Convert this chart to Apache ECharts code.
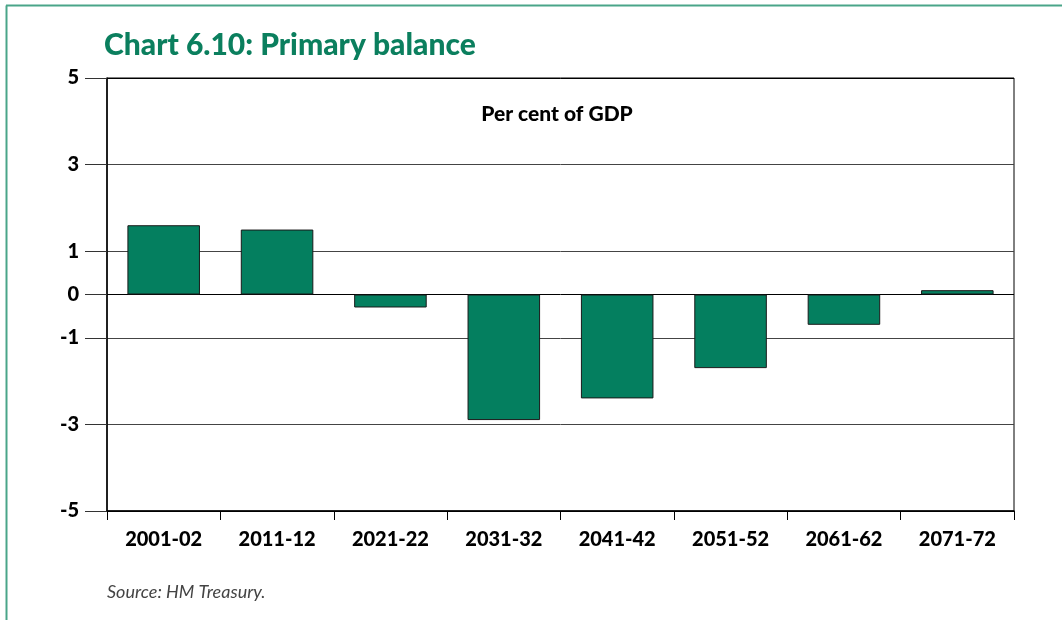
<!DOCTYPE html>
<html>
<head>
<meta charset="utf-8">
<script src="https://cdn.jsdelivr.net/npm/echarts@6/dist/echarts.min.js"></script>
<style>
html,body{margin:0;padding:0;background:#fff;}
#c{width:1062px;height:620px;}
</style>
</head>
<body>
<div id="c"></div>
<script>
var categories = ['2001-02','2011-12','2021-22','2031-32','2041-42','2051-52','2061-62','2071-72'];
var primaryBalance = [1.6, 1.5, -0.3, -2.9, -2.4, -1.7, -0.7, 0.1];
var yTicks = [-5, -3, -1, 0, 1, 3, 5];

var chart = echarts.init(document.getElementById('c'), null, {renderer: 'canvas'});
var FONT = 'Lato, "Open Sans", sans-serif';
chart.setOption({
  animation: false,
  backgroundColor: '#fff',
  title: {
    text: 'Chart 6.10: Primary balance',
    left: 99, top: 25,
    textStyle: {color: '#0b7f5e', fontFamily: FONT, fontWeight: 900, fontSize: 30}
  },
  graphic: [
    {type: 'line', shape: {x1: 6.5, y1: 5.5, x2: 6.5, y2: 620}, style: {stroke: '#4aa589', lineWidth: 2}},
    {type: 'line', shape: {x1: 6, y1: 5.5, x2: 1062, y2: 5.5}, style: {stroke: '#4aa589', lineWidth: 2}},
    {type: 'text', x: 557, y: 104, style: {text: 'Per cent of GDP', font: '900 21px ' + FONT, fill: '#000', align: 'center'}},
    {type: 'text', x: 107, y: 583, style: {text: 'Source: HM Treasury.', font: 'italic 18px ' + FONT, fill: '#444'}}
  ],
  grid: {left: 107, right: 48, top: 78, bottom: 109, show: true, borderColor: '#000', borderWidth: 1, backgroundColor: 'transparent'},
  xAxis: {
    type: 'category',
    data: categories,
    boundaryGap: true,
    axisLine: {show: true, onZero: false, lineStyle: {color: '#000', width: 1.5}},
    axisTick: {show: true, alignWithLabel: false, length: 9, lineStyle: {color: '#000', width: 1}},
    axisLabel: {color: '#000', fontFamily: FONT, fontWeight: 900, fontSize: 20, margin: 19}
  },
  yAxis: {
    type: 'value',
    min: -5, max: 5,
    axisLine: {show: true, lineStyle: {color: '#000', width: 1.5}},
    axisTick: {show: true, inside: false, length: 22, customValues: yTicks, lineStyle: {color: '#333', width: 1}},
    axisLabel: {customValues: yTicks, color: '#000', fontFamily: FONT, fontWeight: 900, fontSize: 20, margin: 28},
    splitLine: {show: true, lineStyle: {color: ['#000', '#444', '#444', '#000', '#444', '#444', '#000'], width: 1}}
  },
  series: [{
    type: 'bar',
    data: primaryBalance,
    barWidth: '64%',
    itemStyle: {color: '#047f5f', borderColor: '#1a1a1a', borderWidth: 1}
  }]
});
</script>
</body>
</html>
